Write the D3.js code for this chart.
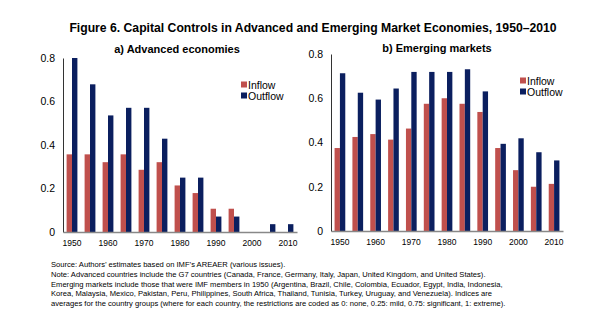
<!DOCTYPE html>
<html>
<head>
<meta charset="utf-8">
<title>Capital Controls, 1950-2010</title>
<script src="https://cdnjs.cloudflare.com/ajax/libs/d3/7.8.5/d3.min.js"></script>
<style>
  body { margin: 0; background: #fff; }
  svg { display: block; font-family: "Liberation Sans", Arial, sans-serif; }
</style>
</head>
<body>
<script>
// five-year observations
var years = [1950, 1955, 1960, 1965, 1970, 1975, 1980, 1985, 1990, 1995, 2000, 2005, 2010];
var yTicks = [0, 0.2, 0.4, 0.6, 0.8];
var xLabels = [1950, 1960, 1970, 1980, 1990, 2000, 2010];

// advanced economies
var advInflow  = [0.357, 0.357, 0.321, 0.357, 0.286, 0.321, 0.214, 0.179, 0.107, 0.107, 0, 0, 0];
var advOutflow = [0.8, 0.679, 0.536, 0.571, 0.571, 0.429, 0.25, 0.25, 0.071, 0.071, 0, 0.036, 0.036];

// emerging markets
var emInflow  = [0.375, 0.425, 0.438, 0.413, 0.463, 0.575, 0.6, 0.575, 0.538, 0.375, 0.275, 0.2, 0.213];
var emOutflow = [0.713, 0.625, 0.594, 0.644, 0.719, 0.719, 0.719, 0.731, 0.631, 0.394, 0.419, 0.356, 0.319];

var seriesNames = ["Inflow", "Outflow"];
var colors = {Inflow: "#c0504d", Outflow: "#0b1f5f"};

var svg = d3.select("body").append("svg")
  .attr("width", 600)
  .attr("height", 332);

svg.append("text")
  .attr("x", 313).attr("y", 32)
  .attr("text-anchor", "middle")
  .attr("font-weight", "bold")
  .attr("font-size", 12.2)
  .text("Figure 6. Capital Controls in Advanced and Emerging Market Economies, 1950\u20132010");

function panel(opts) {
  var x = d3.scaleBand().domain(years).range([opts.x0, opts.x1]).paddingInner(0.4).paddingOuter(0.2);
  var y = d3.scaleLinear().domain([0, 0.8]).range([opts.y0, opts.y1]);
  var sub = d3.scaleBand().domain(seriesNames).range([0, x.bandwidth()]);
  var g = svg.append("g");

  g.append("text")
    .attr("x", opts.titleX).attr("y", opts.titleY)
    .attr("text-anchor", "middle")
    .attr("font-weight", "bold")
    .attr("font-size", 11)
    .text(opts.title);

  var rows = years.map(function(yr, i) {
    return {year: yr, Inflow: opts.inflow[i], Outflow: opts.outflow[i]};
  });

  g.selectAll("g.grp").data(rows).enter().append("g")
    .attr("class", "grp")
    .attr("transform", function(d) { return "translate(" + x(d.year) + ",0)"; })
    .selectAll("rect")
    .data(function(d) { return seriesNames.map(function(k) { return {key: k, value: d[k]}; }); })
    .enter().append("rect")
    .attr("x", function(d) { return sub(d.key); })
    .attr("width", sub.bandwidth())
    .attr("y", function(d) { return y(d.value); })
    .attr("height", function(d) { return y(0) - y(d.value); })
    .attr("fill", function(d) { return colors[d.key]; });

  // y axis
  var ya = g.append("g")
    .attr("transform", "translate(" + opts.x0 + ",0)")
    .call(d3.axisLeft(y).tickValues(yTicks).tickSize(0).tickPadding(8)
      .tickFormat(function(d) { return d === 0 ? "0" : d3.format(".1f")(d); }));
  ya.select(".domain").attr("stroke", "#333").attr("stroke-width", 1);
  ya.selectAll("text").attr("font-size", 10.5).attr("fill", "#000")
    .attr("font-family", "Liberation Sans, Arial, sans-serif");

  // x axis
  var xa = g.append("g")
    .attr("transform", "translate(0," + opts.y0 + ")")
    .call(d3.axisBottom(x).tickValues(xLabels).tickSize(0).tickPadding(8));
  xa.select(".domain").attr("stroke", "#888").attr("stroke-width", 1.5);
  xa.selectAll("text").attr("font-size", 8.5).attr("fill", "#000")
    .attr("font-family", "Liberation Sans, Arial, sans-serif");

  // legend
  var lg = g.append("g").attr("transform", "translate(" + opts.legX + "," + opts.legY + ")");
  seriesNames.forEach(function(k, i) {
    lg.append("rect").attr("x", 0).attr("y", i * 11 - 3.5).attr("width", 6).attr("height", 6)
      .attr("fill", colors[k]);
    lg.append("text").attr("x", 7).attr("y", i * 11).attr("dy", "0.35em")
      .attr("font-size", 10.5).text(k);
  });
}

panel({
  title: "a) Advanced economies", titleX: 177, titleY: 53,
  x0: 63, x1: 297, y0: 232, y1: 58,
  inflow: advInflow, outflow: advOutflow,
  legX: 241, legY: 85
});

panel({
  title: "b) Emerging markets", titleX: 437, titleY: 52,
  x0: 331, x1: 563, y0: 231, y1: 54,
  inflow: emInflow, outflow: emOutflow,
  legX: 520, legY: 81
});

var notes = [
  "Source: Authors\u2019 estimates based on IMF\u2019s AREAER (various issues).",
  "Note: Advanced countries include the G7 countries (Canada, France, Germany, Italy, Japan, United Kingdom, and United States).",
  "Emerging markets include those that were IMF members in 1950 (Argentina, Brazil, Chile, Colombia, Ecuador, Egypt, India, Indonesia,",
  "Korea, Malaysia, Mexico, Pakistan, Peru, Philippines, South Africa, Thailand, Tunisia, Turkey, Uruguay, and Venezuela). Indices are",
  "averages for the country groups (where for each country, the restrictions are coded as 0: none, 0.25: mild, 0.75: significant, 1: extreme)."
];

svg.append("g").selectAll("text").data(notes).enter().append("text")
  .attr("x", 51)
  .attr("y", function(d, i) { return 267 + i * 9.8; })
  .attr("font-size", 7.6)
  .text(function(d) { return d; });
</script>
</body>
</html>
